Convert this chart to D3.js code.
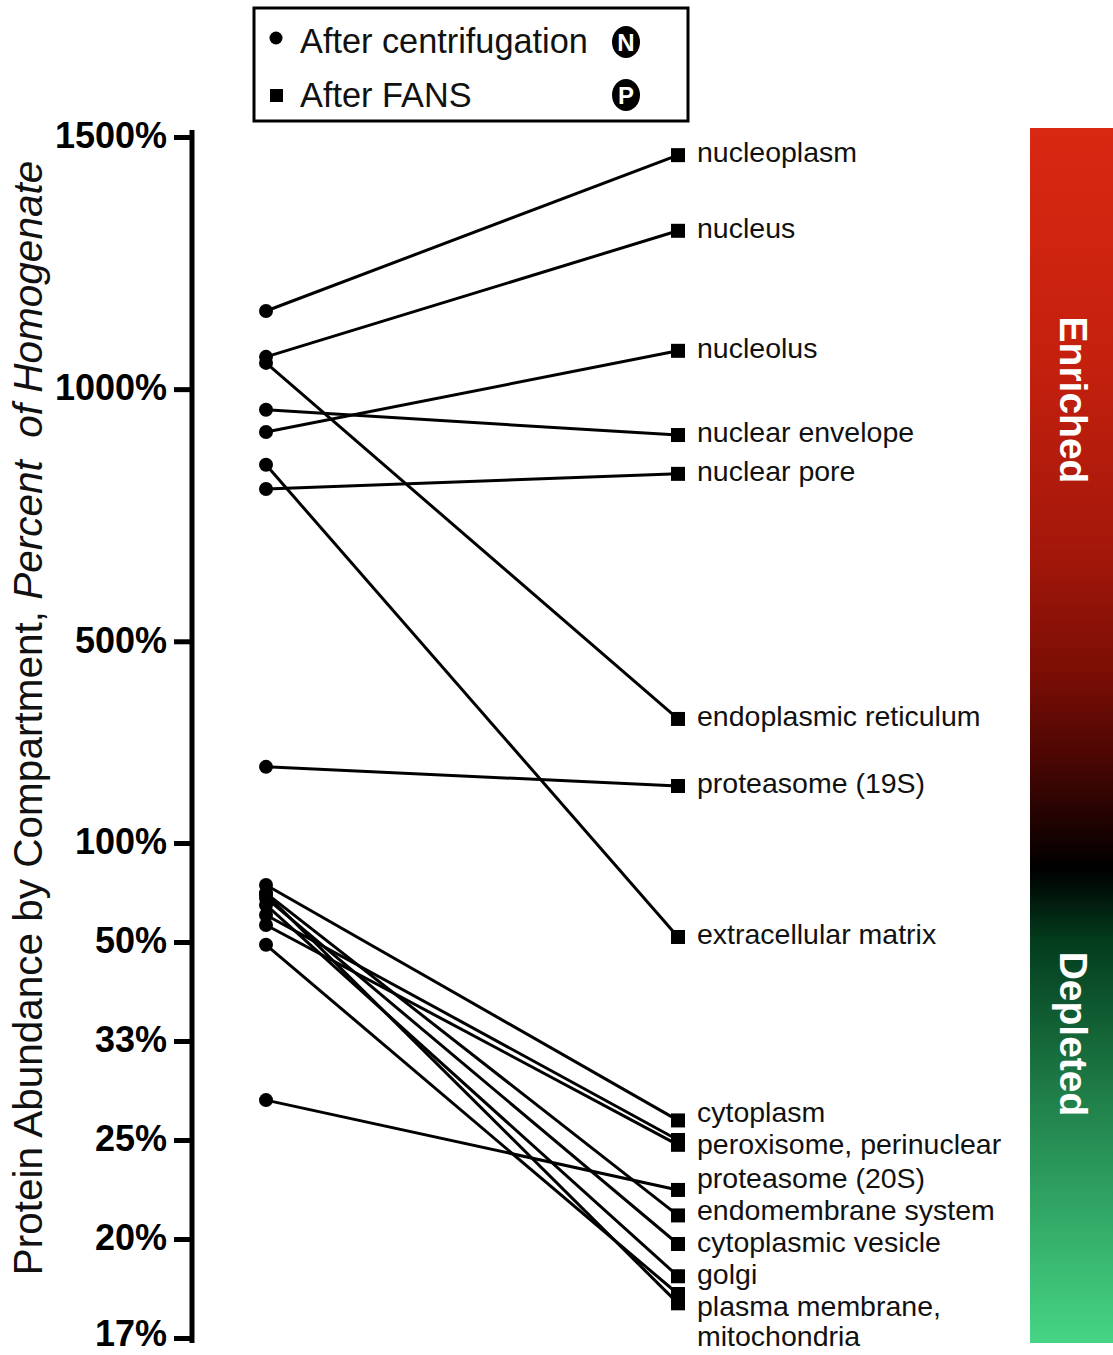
<!DOCTYPE html>
<html>
<head>
<meta charset="utf-8">
<script src="https://cdn.jsdelivr.net/npm/d3@7/dist/d3.min.js"></script>
<style>
  html, body { margin: 0; padding: 0; background: #fff; }
  svg { display: block; font-family: "Liberation Sans", Arial, sans-serif; }
</style>
</head>
<body>
<svg id="chart" width="1113" height="1355"></svg>
<script>
// ---------------- data ----------------
const categories = [
  "nucleoplasm", "nucleus", "nucleolus", "nuclear envelope", "nuclear pore",
  "endoplasmic reticulum", "proteasome (19S)", "extracellular matrix",
  "cytoplasm", "peroxisome", "perinuclear", "proteasome (20S)",
  "endomembrane system", "cytoplasmic vesicle", "golgi", "plasma membrane", "mitochondria"
];
// percent of homogenate after centrifugation (circles)
const afterCentrifugation = [1155, 1064, 915, 959, 802, 1052, 251, 850,
  70.2, 57.9, 54.7, 27.8, 66.4, 64.3, 61.5, 49.3, 66.0];
// percent of homogenate after FANS (squares)
const afterFANS = [1464, 1314, 1076, 909, 832, 346, 213, 51.3,
  26.3, 25.0, 24.7, 22.2, 21.0, 19.8, 18.6, 18.0, 17.7];

// right-side labels (lines) and the categories each one describes
const labelLines = [
  ["nucleoplasm"], ["nucleus"], ["nucleolus"], ["nuclear envelope"], ["nuclear pore"],
  ["endoplasmic reticulum"], ["proteasome (19S)"], ["extracellular matrix"],
  ["cytoplasm"], ["peroxisome, perinuclear"], ["proteasome (20S)"],
  ["endomembrane system"], ["cytoplasmic vesicle"], ["golgi"],
  ["plasma membrane,", "mitochondria"]
];
const labelMembers = [
  ["nucleoplasm"], ["nucleus"], ["nucleolus"], ["nuclear envelope"], ["nuclear pore"],
  ["endoplasmic reticulum"], ["proteasome (19S)"], ["extracellular matrix"],
  ["cytoplasm"], ["peroxisome", "perinuclear"], ["proteasome (20S)"],
  ["endomembrane system"], ["cytoplasmic vesicle"], ["golgi"],
  ["plasma membrane", "mitochondria"]
];

const tickValues = [1500, 1000, 500, 100, 50, 33.333, 25, 20, 16.667];
const tickLabels = ["1500%", "1000%", "500%", "100%", "50%", "33%", "25%", "20%", "17%"];

const legendLabels = ["After centrifugation", "After FANS"];
const legendBadges = ["N", "P"];
const barLabels = ["Enriched", "Depleted"];
const stageNames = ["centrifugation", "FANS"];

// ---------------- scales ----------------
// fold change: enrichment above 100%, reciprocal depletion below 100%
const fold = v => v >= 100 ? v / 100 - 1 : -(100 / v - 1);
const y = d3.scaleLinear().domain([-5, 0, 14]).range([1338, 843, 137]);
const yv = v => y(fold(v));
const x = d3.scalePoint().domain(stageNames).range([266, 678]);

const svg = d3.select("#chart");

// ---------------- colour bar ----------------
const defs = svg.append("defs");
const grad = defs.append("linearGradient").attr("id", "eg")
  .attr("x1", 0).attr("y1", 0).attr("x2", 0).attr("y2", 1);
[[0, "#d92812"], [0.2, "#c3200e"], [0.35, "#a3170a"], [0.45, "#7a0e05"],
 [0.52, "#4a0603"], [0.61, "#000000"], [0.67, "#033d1e"], [0.8, "#20804a"],
 [1, "#46d585"]].forEach(([o, c]) => grad.append("stop").attr("offset", o).attr("stop-color", c));
svg.append("rect").attr("x", 1030).attr("y", 128).attr("width", 90).attr("height", 1215)
  .attr("fill", "url(#eg)");
[[barLabels[0], 400], [barLabels[1], 1034]].forEach(([t, cy]) => {
  svg.append("text").attr("transform", `translate(1074,${cy}) rotate(90)`)
    .attr("text-anchor", "middle").attr("dy", "0.35em")
    .attr("fill", "#fff").attr("font-weight", "bold").attr("font-size", 39).text(t);
});

// ---------------- axis ----------------
const axis = d3.axisLeft(y)
  .tickValues(tickValues.map(fold))
  .tickFormat((d, i) => tickLabels[i])
  .tickSize(18).tickPadding(7);
const ax = svg.append("g").attr("transform", "translate(192,0)").call(axis);
ax.select(".domain").attr("d", "M0,130V1343").attr("stroke", "#000").attr("stroke-width", 5);
ax.selectAll(".tick line").attr("stroke", "#000").attr("stroke-width", 5);
const nTicks = tickLabels.length;
ax.selectAll(".tick text").attr("fill", "#000").attr("font-size", 36).attr("font-weight", "bold")
  .attr("dy", (d, i) => i === nTicks - 1 ? "0.22em" : "0.3em")
  .attr("font-family", "Liberation Sans, Arial, sans-serif");

// axis title
const title = svg.append("text").attr("transform", "translate(42,718) rotate(-90)")
  .attr("text-anchor", "middle").attr("font-size", 40.5).attr("fill", "#111");
title.append("tspan").text("Protein Abundance by Compartment, ");
title.append("tspan").attr("font-style", "italic").text("Percent\u00a0 of Homogenate");

// ---------------- lines & markers ----------------
const data = categories.map((c, i) => ({ c, a: afterCentrifugation[i], b: afterFANS[i] }));
svg.append("g").selectAll("line").data(data).join("line")
  .attr("x1", x("centrifugation")).attr("y1", d => yv(d.a))
  .attr("x2", x("FANS")).attr("y2", d => yv(d.b))
  .attr("stroke", "#000").attr("stroke-width", 3);
svg.append("g").selectAll("circle").data(data).join("circle")
  .attr("cx", x("centrifugation")).attr("cy", d => yv(d.a)).attr("r", 7).attr("fill", "#000");
svg.append("g").selectAll("rect").data(data).join("rect")
  .attr("x", x("FANS") - 7).attr("y", d => yv(d.b) - 7)
  .attr("width", 14).attr("height", 14).attr("fill", "#000");

// ---------------- right labels (collision-relaxed) ----------------
const lab = labelLines.map((lines, i) => {
  const ys = labelMembers[i].map(m => yv(afterFANS[categories.indexOf(m)]));
  return { lines, y: d3.mean(ys) };
});
const gap = 32;
for (let it = 0; it < 200; it++) {
  for (let i = 1; i < lab.length; i++) {
    const d = lab[i].y - lab[i - 1].y;
    if (d < gap) {
      const s = (gap - d) / 2;
      lab[i - 1].y -= s; lab[i].y += s;
    }
  }
}
const lg = svg.append("g");
lab.forEach(l => {
  const t = lg.append("text").attr("x", 697).attr("y", l.y - 3)
    .attr("font-size", 28.5).attr("fill", "#111");
  l.lines.forEach((s, k) => t.append("tspan").attr("x", 697).attr("dy", k === 0 ? "0.35em" : "1.06em").text(s));
});

// ---------------- legend ----------------
const leg = svg.append("g");
leg.append("rect").attr("x", 254).attr("y", 8).attr("width", 434).attr("height", 113)
  .attr("fill", "#fff").attr("stroke", "#000").attr("stroke-width", 3);
leg.append("circle").attr("cx", 276).attr("cy", 38).attr("r", 6.5).attr("fill", "#000");
leg.append("rect").attr("x", 270).attr("y", 89).attr("width", 13).attr("height", 13).attr("fill", "#000");
legendLabels.forEach((t, i) => {
  leg.append("text").attr("x", 300).attr("y", 53 + i * 54).attr("font-size", 34.3).attr("fill", "#111").text(t);
  leg.append("ellipse").attr("cx", 626).attr("cy", 42 + i * 53).attr("rx", 14).attr("ry", 16).attr("fill", "#000");
  leg.append("text").attr("x", 626).attr("y", 42 + i * 53).attr("dy", "0.36em").attr("text-anchor", "middle")
    .attr("font-size", 24).attr("font-weight", "bold").attr("fill", "#fff").text(legendBadges[i]);
});
</script>
</body>
</html>
